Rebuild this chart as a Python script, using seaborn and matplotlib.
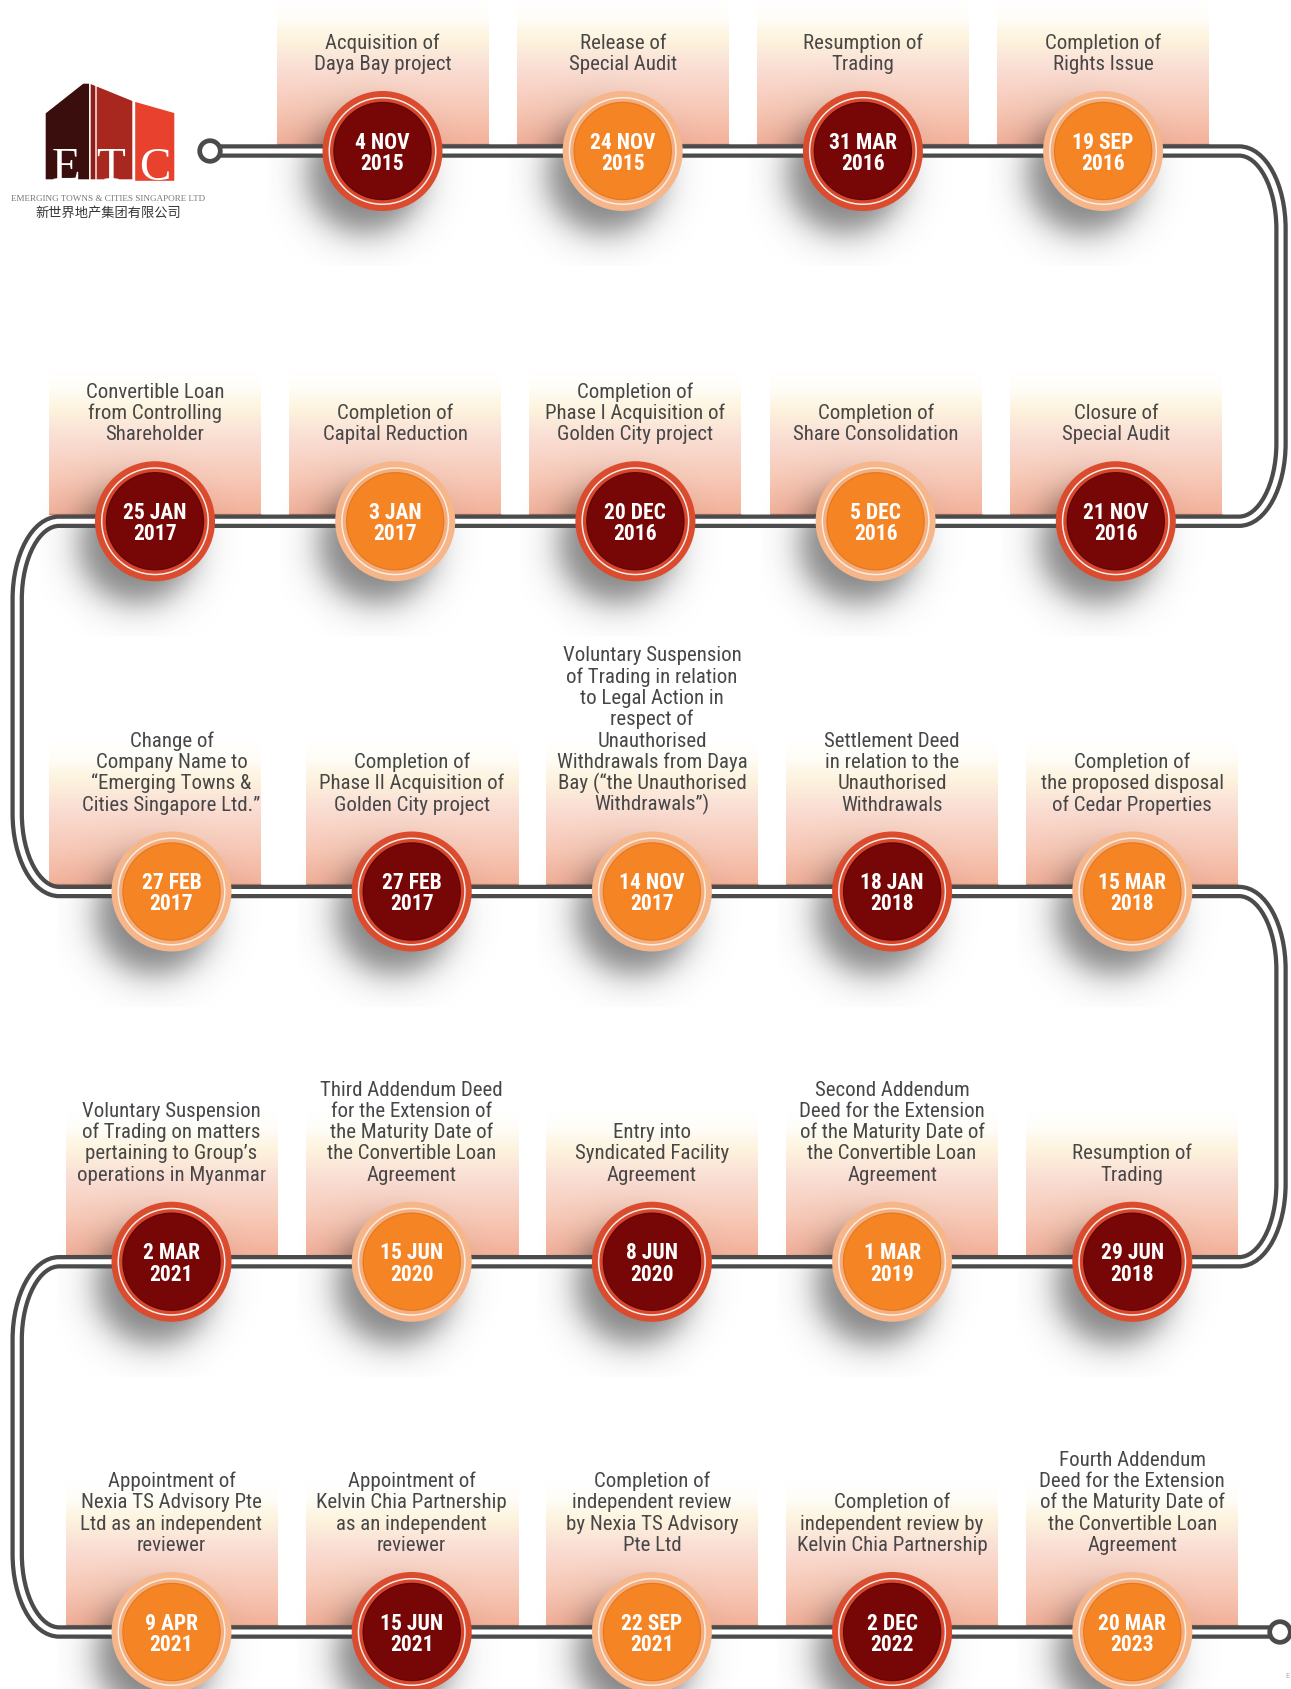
import numpy as np
import pandas as pd
import matplotlib
matplotlib.use("Agg")
import matplotlib.pyplot as plt
import seaborn as sns
from matplotlib.path import Path
from matplotlib.patches import PathPatch, Polygon, Circle
from matplotlib.colors import LinearSegmentedColormap
from matplotlib import font_manager as fm

# --- timeline data (read left to right, row by row, as drawn) ---
row_sizes = [4, 5, 5, 5, 5]

events = [
    "Acquisition of\nDaya Bay project",
    "Release of\nSpecial Audit",
    "Resumption of\nTrading",
    "Completion of\nRights Issue",
    "Convertible Loan\nfrom Controlling\nShareholder",
    "Completion of\nCapital Reduction",
    "Completion of\nPhase I Acquisition of\nGolden City project",
    "Completion of\nShare Consolidation",
    "Closure of\nSpecial Audit",
    "Change of\nCompany Name to\n\u201cEmerging Towns &\nCities Singapore Ltd.\u201d",
    "Completion of\nPhase II Acquisition of\nGolden City project",
    "Voluntary Suspension\nof Trading in relation\nto Legal Action in\nrespect of\nUnauthorised\n"
    "Withdrawals from Daya\nBay (\u201cthe Unauthorised\nWithdrawals\u201d)",
    "Settlement Deed\nin relation to the\nUnauthorised\nWithdrawals",
    "Completion of\nthe proposed disposal\nof Cedar Properties",
    "Voluntary Suspension\nof Trading on matters\npertaining to Group\u2019s\noperations in Myanmar",
    "Third Addendum Deed\nfor the Extension of\nthe Maturity Date of\nthe Convertible Loan\nAgreement",
    "Entry into\nSyndicated Facility\nAgreement",
    "Second Addendum\nDeed for the Extension\nof the Maturity Date of\nthe Convertible Loan\nAgreement",
    "Resumption of\nTrading",
    "Appointment of\nNexia TS Advisory Pte\nLtd as an independent\nreviewer",
    "Appointment of\nKelvin Chia Partnership\nas an independent\nreviewer",
    "Completion of\nindependent review\nby Nexia TS Advisory\nPte Ltd",
    "Completion of\nindependent review by\nKelvin Chia Partnership",
    "Fourth Addendum\nDeed for the Extension\nof the Maturity Date of\nthe Convertible Loan\nAgreement",
]

dates = [
    "4 NOV\n2015", "24 NOV\n2015", "31 MAR\n2016", "19 SEP\n2016",
    "25 JAN\n2017", "3 JAN\n2017", "20 DEC\n2016", "5 DEC\n2016", "21 NOV\n2016",
    "27 FEB\n2017", "27 FEB\n2017", "14 NOV\n2017", "18 JAN\n2018", "15 MAR\n2018",
    "2 MAR\n2021", "15 JUN\n2020", "8 JUN\n2020", "1 MAR\n2019", "29 JUN\n2018",
    "9 APR\n2021", "15 JUN\n2021", "22 SEP\n2021", "2 DEC\n2022", "20 MAR\n2023",
]

kinds = [
    "dark", "orange", "dark", "orange",
    "dark", "orange", "dark", "orange", "dark",
    "orange", "dark", "orange", "dark", "orange",
    "dark", "orange", "dark", "orange", "dark",
    "orange", "dark", "orange", "dark", "orange",
]

# --- fonts ---
sns.set_theme(style="white")
names = {f.name for f in fm.fontManager.ttflist}
cond, stretch = "DejaVu Sans", "condensed"
for cand in ["Roboto Condensed", "Liberation Sans Narrow"]:
    if cand in names:
        cond, stretch = cand, "normal"
        break
serif = "Liberation Serif" if "Liberation Serif" in names else "DejaVu Serif"
plt.rcParams["font.family"] = ["DejaVu Sans"]

# --- layout (pixel space) ---
W, H = 1291, 1689
row_y = [151 + 370.25 * r for r in range(5)]
row_x0 = [382.5, 155, 171.5, 171.5, 171.5]
col_step = 240.2

recs = []
i = 0
for r, n in enumerate(row_sizes):
    for c in range(n):
        recs.append(dict(x=row_x0[r] + c * col_step, y=row_y[r], row=r, col=c,
                         kind=kinds[i], date=dates[i], event=events[i]))
        i += 1
df = pd.DataFrame(recs)

fig = plt.figure(figsize=(W / 100, H / 100), dpi=100)
ax = fig.add_axes([0, 0, 1, 1])

# panels with vertical gradient
grad = LinearSegmentedColormap.from_list(
    "panel", [(0, "#FFFFFF"), (0.12, "#FFFDF7"), (0.27, "#FDF3DD"),
              (0.45, "#FADFD5"), (0.75, "#F7C8B6"), (1, "#F3B19A")])
gimg = np.linspace(0, 1, 256).reshape(-1, 1)
for _, e in df.iterrows():
    pc = e.x - (17 if (e.row == 2 and e.col == 0) else 0)
    ax.imshow(gimg, cmap=grad, extent=(pc - 106, pc + 106, e.y - 6.5, e.y - 150),
              origin="upper", aspect="auto", zorder=1, interpolation="bilinear")
    ax.plot([pc - 106, pc + 106], [e.y - 7.2, e.y - 7.2], color="#D08670",
            lw=1.0, zorder=1.1, solid_capstyle="butt")

# soft shadows under the date discs
gx, gy = np.meshgrid(np.arange(-115, 116), np.arange(-115, 116))
d = np.hypot(gx + 18, gy - 24)
shadow = np.zeros(gx.shape + (4,))
shadow[..., :3] = 0.22
shadow[..., 3] = 0.62 / (1 + np.exp((d - 57) / 10.0))
for _, e in df.iterrows():
    ax.imshow(shadow, extent=(e.x - 115, e.x + 115, e.y + 115, e.y - 115),
              origin="upper", aspect="auto", zorder=2, interpolation="bilinear")

# serpentine double track
L, C4 = Path.LINETO, Path.CURVE4
xr, xl = 1281.0, 17.2
rx, ry, k = 42.0, 78.0, 0.5523
verts = [(210, row_y[0])]
codes = [Path.MOVETO]
for r in range(4):
    side = 1 if r % 2 == 0 else -1
    xe = xr if side == 1 else xl
    ya, yb = row_y[r], row_y[r + 1]
    xs = xe - side * rx
    verts += [(xs, ya), (xs + side * k * rx, ya), (xe, ya + ry - k * ry), (xe, ya + ry),
              (xe, yb - ry), (xe, yb - ry + k * ry), (xs + side * k * rx, yb), (xs, yb)]
    codes += [L, C4, C4, C4, L, C4, C4, C4]
verts.append((1280, row_y[4]))
codes.append(L)
track = Path(verts, codes)
ax.add_patch(PathPatch(track, fill=False, ec="#4B4B4B", lw=9.7, capstyle="butt",
                       joinstyle="round", zorder=3))
ax.add_patch(PathPatch(track, fill=False, ec="white", lw=3.6, capstyle="butt",
                       joinstyle="round", zorder=3.1))
for (nx, ny) in [(210, row_y[0]), (1280, row_y[4])]:
    ax.add_patch(Circle((nx, ny), 10.3, fc="white", ec="#4B4B4B", lw=3.4, zorder=3.2))

# date discs (layered rings)
layers = [
    (60.0, "#DB4B2D", "#F6B68A"),
    (54.0, "#F4EEEC", "#FCEDE2"),
    (52.5, "#D8472B", "#F4AE7E"),
    (49.2, "#5E0606", "#E5781E"),
    (48.0, "#770707", "#F58524"),
]
for rad, cd, co in layers:
    sns.scatterplot(data=df, x="x", y="y", hue="kind", palette={"dark": cd, "orange": co},
                    s=(2 * rad * 0.72) ** 2, linewidth=0, legend=False, ax=ax, zorder=4)

for _, e in df.iterrows():
    l1, l2 = e.date.split("\n")
    for txt, dy in [(l1, -2.5), (l2, 18.8)]:
        ax.text(e.x, e.y + dy, txt, ha="center", va="baseline", color="white",
                fontsize=15.5, fontweight="bold", family=cond, fontstretch=stretch, zorder=6)
    lines = e.event.split("\n")
    n = len(lines)
    for j, ln in enumerate(lines):
        ax.text(e.x, e.y - 81 - (n - 1 - j) * 21.3, ln, ha="center", va="baseline",
                color="#474747", fontsize=15, family=cond, fontstretch=stretch, zorder=6)

# logo
ax.add_patch(Polygon([(45, 113), (83, 83), (90, 83), (90, 180), (45, 180)], fc="#3B0E0E", zorder=5))
ax.add_patch(Polygon([(90, 83), (133, 100.5), (133, 180), (90, 180)], fc="#A8271F", zorder=5))
ax.add_patch(Polygon([(90, 83), (96, 85.5), (96, 180), (90, 180)], fc="#8E1E18", zorder=5))
ax.add_patch(Polygon([(134.5, 101), (175, 112.5), (175, 181.5), (134.5, 181.5)], fc="#E8412E", zorder=5))
for lx, ch in [(66, "E"), (111, "T"), (155, "C")]:
    ax.text(lx, 180, ch, ha="center", va="baseline", color="white", fontsize=34,
            family=serif, zorder=6)
ax.text(108, 200.5, "EMERGING TOWNS & CITIES SINGAPORE LTD", ha="center", va="baseline",
        color="#777777", fontsize=6.6, family=serif, zorder=6)
ax.text(108, 213, "\u65b0\u4e16\u754c\u5730\u4ea7\u96c6\u56e2\u6709\u9650\u516c\u53f8",
        ha="center", va="center", color="#333333", fontsize=9.5,
        family=["Noto Sans CJK SC", "DejaVu Sans"], zorder=6)
ax.text(1285, 1678, "E", ha="left", va="baseline", color="#AAAAAA", fontsize=5)

ax.set_xlim(0, W)
ax.set_ylim(H, 0)
ax.axis("off")
fig.savefig("out.png", dpi=100, facecolor="white")
